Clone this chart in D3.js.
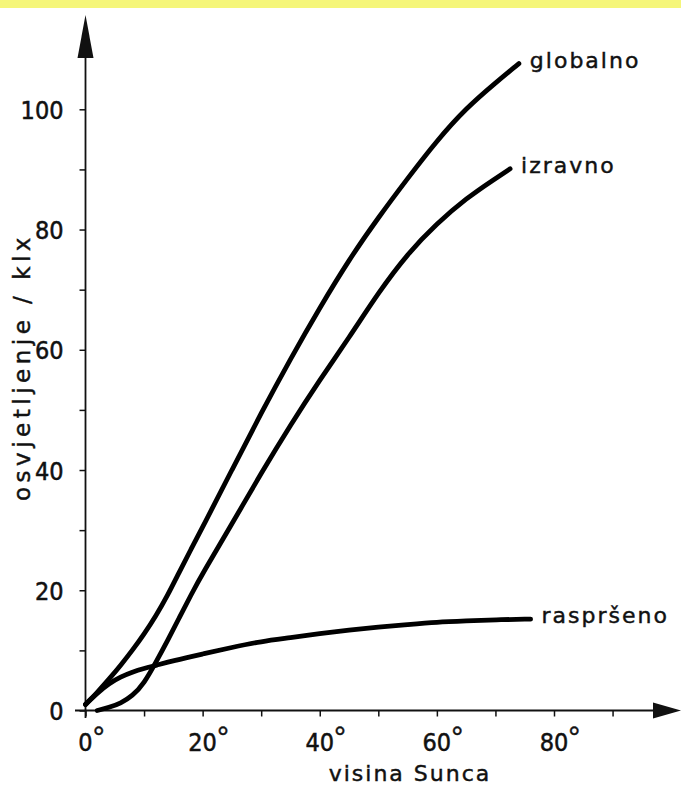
<!DOCTYPE html>
<html>
<head>
<meta charset="utf-8">
<script src="https://cdn.jsdelivr.net/npm/d3@7"></script>
<style>
    html, body { margin: 0; padding: 0; background: #fff; }
    .label { font-family: "DejaVu Sans", sans-serif; font-size: 22px; letter-spacing: 2px; fill: #111; stroke: #111; stroke-width: 0.45px; }
    .num { font-family: "Liberation Sans Narrow", "DejaVu Sans Condensed", "Liberation Sans", sans-serif; font-size: 25px; fill: #111; stroke: #111; stroke-width: 0.5px; }
    .deg { font-family: "Liberation Sans", sans-serif; font-size: 30px; fill: #111; stroke: #111; stroke-width: 0.4px; }
</style>
</head>
<body>
<svg id="chart" width="681" height="787"></svg>
<script>
// Sun elevation (deg) and illuminance (klx)
const globalAngles = [0, 2, 4, 6, 8, 10, 12, 14, 16, 18, 20, 25, 30, 35, 40, 45, 50, 55, 60, 65, 70, 74];
const globalValues = [1.0, 3.0, 5.2, 7.5, 10.0, 12.7, 15.7, 19.1, 23.0, 26.8, 30.5, 40.0, 49.5, 58.5, 67.0, 75.0, 82.0, 88.5, 94.8, 100.2, 104.4, 107.6];

const directAngles = [2, 4, 6, 8, 10, 12, 14, 16, 18, 20, 25, 30, 35, 40, 45, 50, 55, 60, 65, 70, 72.5];
const directValues = [0, 0.5, 1.2, 2.4, 4.5, 8.0, 11.6, 15.4, 19.2, 22.8, 31.0, 39.5, 47.5, 55.0, 62.0, 69.5, 76.0, 81.0, 85.2, 88.5, 90.1];

const diffuseAngles = [0, 2, 4, 6, 8, 10, 12, 15, 20, 25, 30, 35, 40, 45, 50, 55, 60, 65, 70, 76];
const diffuseValues = [1.0, 2.9, 4.5, 5.6, 6.4, 7.0, 7.5, 8.3, 9.4, 10.5, 11.5, 12.1, 12.8, 13.4, 13.9, 14.3, 14.7, 14.9, 15.1, 15.2];

const seriesNames = ['globalno', 'izravno', 'raspršeno'];
const xTickValues = [0, 10, 20, 30, 40, 50, 60, 70, 80, 90];
const xTickLabels = [0, 20, 40, 60, 80];
const yTickValues = [0, 10, 20, 30, 40, 50, 60, 70, 80, 90, 100];
const yTickLabels = [0, 20, 40, 60, 80, 100];
const xTitle = 'visina Sunca';
const yTitle = 'osvjetljenje / klx';

(function() {
    'use strict';

    const svg = d3.select('#chart');
    const ox = 85.5, oy = 710.5;

    // yellow strip along the top of the scan
    svg.append('rect').attr('x', 0).attr('y', 0).attr('width', 681).attr('height', 8).attr('fill', '#f5f67a');

    const x = d3.scaleLinear().domain([0, 80]).range([ox, 554]);
    const y = d3.scaleLinear().domain([0, 100]).range([oy, 109.3]);

    // axes: ticks only, the lines and arrows are drawn by hand below
    const yAxis = svg.append('g')
        .attr('transform', `translate(${ox},0)`)
        .call(d3.axisLeft(y).tickValues(yTickValues).tickSize(6).tickPadding(16)
            .tickFormat(d => yTickLabels.includes(d) ? d : ''));
    yAxis.select('.domain').remove();
    yAxis.selectAll('text').attr('class', 'num').attr('dy', '0.36em');

    const xAxis = svg.append('g')
        .attr('transform', `translate(0,${oy})`)
        .call(d3.axisBottom(x).tickValues(xTickValues).tickSize(6).tickFormat(''));
    xAxis.select('.domain').remove();

    svg.selectAll('.tick line').attr('stroke', '#111').attr('stroke-width', 1.5);

    // x tick labels, number centred on the tick, raised degree sign after it
    xTickLabels.forEach(d => {
        const t = svg.append('text').attr('class', 'num')
            .attr('x', x(d)).attr('y', 751).attr('text-anchor', 'middle').text(d);
        const w = t.node().getComputedTextLength();
        svg.append('text').attr('class', 'deg')
            .attr('x', x(d) + w / 2).attr('y', 747).text('°');
    });

    // axis lines + arrow heads
    svg.append('line').attr('x1', ox).attr('y1', 718).attr('x2', ox).attr('y2', 40)
        .attr('stroke', '#111').attr('stroke-width', 1.8);
    svg.append('path').attr('d', `M${ox},15 L${ox - 8},58 L${ox + 8},58 Z`).attr('fill', '#111');

    svg.append('line').attr('x1', 75).attr('y1', oy).attr('x2', 660).attr('y2', oy)
        .attr('stroke', '#111').attr('stroke-width', 1.8);
    svg.append('path').attr('d', `M681,${oy} L653,${oy - 8} L653,${oy + 8} Z`).attr('fill', '#111');

    // curves
    const series = [
        { name: seriesNames[0], xs: globalAngles, ys: globalValues },
        { name: seriesNames[1], xs: directAngles, ys: directValues },
        { name: seriesNames[2], xs: diffuseAngles, ys: diffuseValues }
    ];

    const line = d3.line()
        .x(d => x(d[0]))
        .y(d => y(d[1]))
        .curve(d3.curveBasis);

    series.forEach(s => {
        const pts = s.xs.map((v, i) => [v, s.ys[i]]);
        svg.append('path')
            .datum(pts)
            .attr('d', line)
            .attr('fill', 'none')
            .attr('stroke', '#000')
            .attr('stroke-width', 4.8)
            .attr('stroke-linecap', 'round');

        const last = pts[pts.length - 1];
        svg.append('text').attr('class', 'label')
            .attr('x', x(last[0]) + 11)
            .attr('y', y(last[1]) + 4)
            .text(s.name);
    });

    // axis titles
    svg.append('text').attr('class', 'label')
        .attr('x', 410).attr('y', 781).attr('text-anchor', 'middle')
        .text(xTitle);

    svg.append('text').attr('class', 'label')
        .attr('transform', 'translate(30,367) rotate(-90)')
        .attr('text-anchor', 'middle')
        .style('font-size', '23px')
        .style('letter-spacing', '4.5px')
        .text(yTitle);
})();
</script>
</body>
</html>
